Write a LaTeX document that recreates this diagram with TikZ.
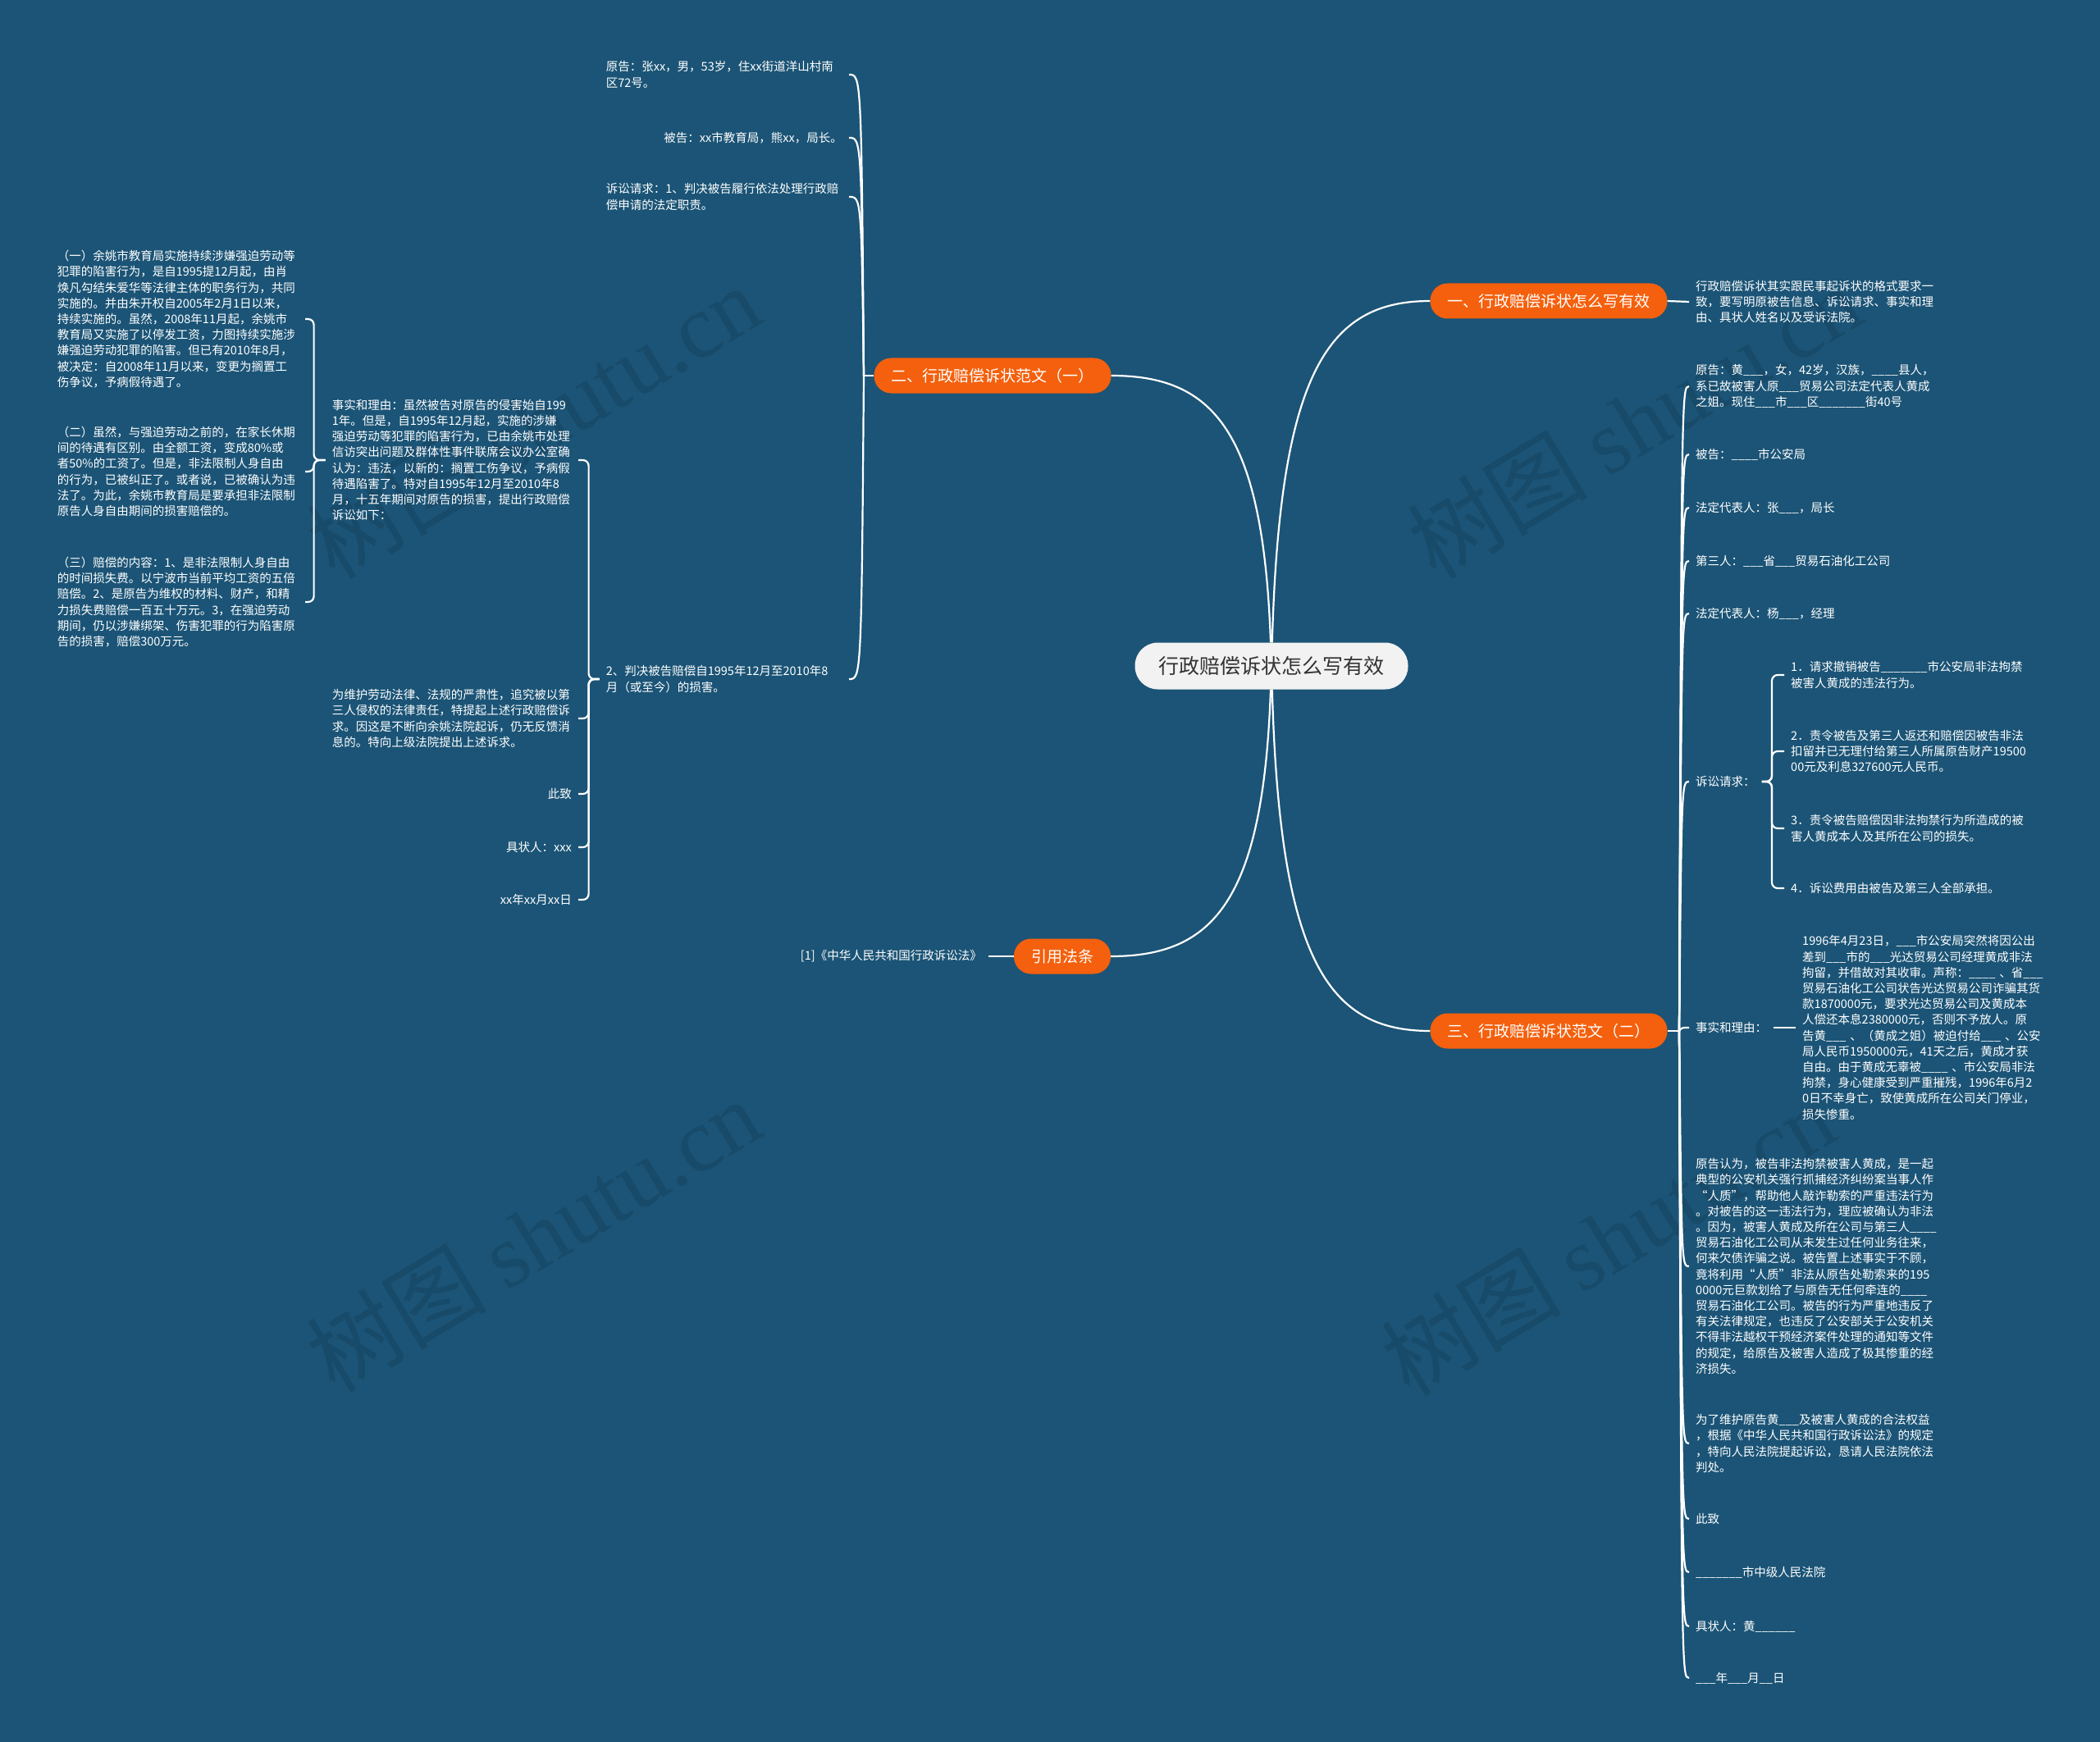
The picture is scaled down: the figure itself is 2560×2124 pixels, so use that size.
\documentclass[tikz,border=0pt]{standalone}
\usepackage{fontspec}
\setmainfont{Noto Sans CJK SC}
\newfontfamily\wmserif{Liberation Serif}
\usetikzlibrary{calc}
\definecolor{bgblue}{RGB}{27,84,118}
\definecolor{orng}{RGB}{244,96,13}
\definecolor{ctrfill}{RGB}{242,242,242}
\definecolor{ctrtext}{RGB}{51,51,51}
\begin{document}
\begin{tikzpicture}[x=1pt,y=-1pt,
  conn/.style={draw=white, line width=2.2pt},
  brace/.style={conn, rounded corners=7pt},
  branch/.style={fill=orng, text=white, rounded corners=21pt, minimum height=43pt, inner xsep=21pt, inner ysep=0pt, font=\fontsize{19}{22}\selectfont},
  ctrnode/.style={fill=ctrfill, text=ctrtext, rounded corners=28pt, minimum height=57pt, inner xsep=29pt, inner ysep=0pt, font=\fontsize{25}{28}\selectfont},
  txt/.style={text=white, inner xsep=8pt, inner ysep=2pt, font=\fontsize{14.5}{19.2}\selectfont},
  lbox/.style={txt, text width=#1, align=left},
  rbox/.style={txt, text width=#1, align=right},
  wm/.style={text=black, text opacity=0.11, rotate=31, font=\fontsize{110}{110}\selectfont}
]
\fill[bgblue] (0,0) rectangle (2560,2124);
\useasboundingbox (0,0) rectangle (2560,2124);

% watermarks
\node[wm] (w1) at (650,514) {树图 {\wmserif shutu.cn}};
\node[wm] (w2) at (1992,514) {树图 {\wmserif shutu.cn}};
\node[wm] (w3) at (650,1506) {树图 {\wmserif shutu.cn}};
\node[wm] (w4) at (1960,1510) {树图 {\wmserif shutu.cn}};

% center and branches
\node[ctrnode] (c) at (1550,812) {行政赔偿诉状怎么写有效};
\node[branch] (b1) at (1888,367) {一、行政赔偿诉状怎么写有效};
\node[branch] (b2) at (1210,458) {二、行政赔偿诉状范文（一）};
\node[branch] (b3) at (1888,1257) {三、行政赔偿诉状范文（二）};
\node[branch] (b4) at (1295,1166) {引用法条};

\draw[conn] (c) .. controls (1560,451) and (1620,367) .. (b1.west);
\draw[conn] (c) .. controls (1560,1173) and (1620,1257) .. (b3.west);
\draw[conn] (c) .. controls (1540,525) and (1479,458) .. (b2.east);
\draw[conn] (c) .. controls (1540,1099) and (1479,1166) .. (b4.east);

% branch 1
\node[lbox=300pt, anchor=west] (r1) at (2059,368) {行政赔偿诉状其实跟民事起诉状的格式要求一\\致，要写明原被告信息、诉讼请求、事实和理\\由、具状人姓名以及受诉法院。};
\draw[conn] (b1.east) -- (r1.west);

% branch 4
\node[txt, anchor=east] (ref) at (1205,1166) {[1]《中华人民共和国行政诉讼法》};
\draw[conn] (b4.west) -- (ref.east);

% branch 2 children
\node[lbox=288pt, anchor=east] (n2a) at (1035,91) {原告：张xx，男，53岁，住xx街道洋山村南\\区72号。};
\node[rbox=288pt, anchor=east] (n2b) at (1035,168) {被告：xx市教育局，熊xx，局长。};
\node[lbox=288pt, anchor=east] (n2c) at (1035,240) {诉讼请求：1、判决被告履行依法处理行政赔\\偿申请的法定职责。};
\node[lbox=288pt, anchor=east] (n2d) at (1035,828) {2、判决被告赔偿自1995年12月至2010年8\\月（或至今）的损害。};
\coordinate (p2) at (1053,458);
\draw[conn] (b2.west) -- (p2);
\foreach \k in {n2a,n2b,n2c,n2d}{
  \draw[conn] (p2) .. controls ($(\k.east)+(15,0)$) .. (\k.east);
}

% level 3 under n2d
\node[lbox=292pt, anchor=east] (l2a) at (705,561) {事实和理由：虽然被告对原告的侵害始自199\\1年。但是，自1995年12月起，实施的涉嫌\\强迫劳动等犯罪的陷害行为，已由余姚市处理\\信访突出问题及群体性事件联席会议办公室确\\认为：违法，以新的：搁置工伤争议，予病假\\待遇陷害了。特对自1995年12月至2010年8\\月，十五年期间对原告的损害，提出行政赔偿\\诉讼如下：};
\node[lbox=292pt, anchor=east] (l2b) at (705,876) {为维护劳动法律、法规的严肃性，追究被以第\\三人侵权的法律责任，特提起上述行政赔偿诉\\求。因这是不断向余姚法院起诉，仍无反馈消\\息的。特向上级法院提出上述诉求。};
\node[rbox=292pt, anchor=east] (l2c) at (705,968) {此致};
\node[rbox=292pt, anchor=east] (l2d) at (705,1033) {具状人：xxx};
\node[rbox=292pt, anchor=east] (l2e) at (705,1097) {xx年xx月xx日};
\coordinate (s2d) at ($(n2d.west)+(-13,0)$);
\foreach \k in {l2a,l2b,l2c,l2d,l2e}{
  \draw[brace] (n2d.west) -- (s2d) |- (\k.east);
}

% level 4 under l2a
\node[lbox=294pt, anchor=east] (l3a) at (372,389) {（一）余姚市教育局实施持续涉嫌强迫劳动等\\犯罪的陷害行为，是自1995提12月起，由肖\\焕凡勾结朱爱华等法律主体的职务行为，共同\\实施的。并由朱开权自2005年2月1日以来，\\持续实施的。虽然，2008年11月起，余姚市\\教育局又实施了以停发工资，力图持续实施涉\\嫌强迫劳动犯罪的陷害。但已有2010年8月，\\被决定：自2008年11月以来，变更为搁置工\\伤争议，予病假待遇了。};
\node[lbox=294pt, anchor=east] (l3b) at (372,575) {（二）虽然，与强迫劳动之前的，在家长休期\\间的待遇有区别。由全额工资，变成80\%或\\者50\%的工资了。但是，非法限制人身自由\\的行为，已被纠正了。或者说，已被确认为违\\法了。为此，余姚市教育局是要承担非法限制\\原告人身自由期间的损害赔偿的。};
\node[lbox=294pt, anchor=east] (l3c) at (372,734) {（三）赔偿的内容：1、是非法限制人身自由\\的时间损失费。以宁波市当前平均工资的五倍\\赔偿。2、是原告为维权的材料、财产，和精\\力损失费赔偿一百五十万元。3，在强迫劳动\\期间，仍以涉嫌绑架、伤害犯罪的行为陷害原\\告的损害，赔偿300万元。};
\coordinate (s2a) at ($(l2a.west)+(-14,0)$);
\foreach \k in {l3a,l3b,l3c}{
  \draw[brace] (l2a.west) -- (s2a) |- (\k.east);
}

% branch 3 children
\node[lbox=300pt, anchor=west] (r3a) at (2059,471) {原告：黄\_\_\_，女，42岁，汉族，\_\_\_\_县人，\\系已故被害人原\_\_\_贸易公司法定代表人黄成\\之姐。现住\_\_\_市\_\_\_区\_\_\_\_\_\_\_街40号};
\node[txt, anchor=west] (r3b) at (2059,554) {被告：\_\_\_\_市公安局};
\node[txt, anchor=west] (r3c) at (2059,619) {法定代表人：张\_\_\_，局长};
\node[txt, anchor=west] (r3d) at (2059,684) {第三人：\_\_\_省\_\_\_贸易石油化工公司};
\node[txt, anchor=west] (r3e) at (2059,748) {法定代表人：杨\_\_\_，经理};
\node[txt, anchor=west] (r3f) at (2059,953) {诉讼请求：};
\node[txt, anchor=west] (r3g) at (2059,1253) {事实和理由：};
\node[lbox=300pt, anchor=west] (r3h) at (2059,1544) {原告认为，被告非法拘禁被害人黄成，是一起\\典型的公安机关强行抓捕经济纠纷案当事人作\\“人质”，帮助他人敲诈勒索的严重违法行为\\。对被告的这一违法行为，理应被确认为非法\\。因为，被害人黄成及所在公司与第三人\_\_\_\_\\贸易石油化工公司从未发生过任何业务往来，\\何来欠债诈骗之说。被告置上述事实于不顾，\\竟将利用“人质”非法从原告处勒索来的195\\0000元巨款划给了与原告无任何牵连的\_\_\_\_\\贸易石油化工公司。被告的行为严重地违反了\\有关法律规定，也违反了公安部关于公安机关\\不得非法越权干预经济案件处理的通知等文件\\的规定，给原告及被害人造成了极其惨重的经\\济损失。};
\node[lbox=300pt, anchor=west] (r3i) at (2059,1760) {为了维护原告黄\_\_\_及被害人黄成的合法权益\\，根据《中华人民共和国行政诉讼法》的规定\\，特向人民法院提起诉讼，恳请人民法院依法\\判处。};
\node[txt, anchor=west] (r3j) at (2059,1852) {此致};
\node[txt, anchor=west] (r3k) at (2059,1917) {\_\_\_\_\_\_\_市中级人民法院};
\node[txt, anchor=west] (r3l) at (2059,1983) {具状人：黄\_\_\_\_\_\_};
\node[txt, anchor=west] (r3m) at (2059,2046) {\_\_\_年\_\_\_月\_\_日};
\coordinate (p3) at (2047,1257);
\draw[conn] (b3.east) -- (p3);
\foreach \k in {r3a,r3b,r3c,r3d,r3e,r3f,r3g,r3h,r3i,r3j,r3k,r3l,r3m}{
  \draw[conn] (p3) .. controls ($(\k.west)+(-9,0)$) .. (\k.west);
}

% claims under r3f
\node[lbox=300pt, anchor=west] (q1) at (2175,823) {1．请求撤销被告\_\_\_\_\_\_\_市公安局非法拘禁\\被害人黄成的违法行为。};
\node[lbox=300pt, anchor=west] (q2) at (2175,916) {2．责令被告及第三人返还和赔偿因被告非法\\扣留并已无理付给第三人所属原告财产19500\\00元及利息327600元人民币。};
\node[lbox=300pt, anchor=west] (q3) at (2175,1010) {3．责令被告赔偿因非法拘禁行为所造成的被\\害人黄成本人及其所在公司的损失。};
\node[lbox=300pt, anchor=west] (q4) at (2175,1083) {4．诉讼费用由被告及第三人全部承担。};
\coordinate (s3f) at (2160,953);
\foreach \k in {q1,q2,q3,q4}{
  \draw[brace] (r3f.east) -- (s3f) |- (\k.west);
}

% facts under r3g
\node[lbox=335pt, anchor=west] (f1) at (2189,1253) {1996年4月23日，\_\_\_市公安局突然将因公出\\差到\_\_\_市的\_\_\_光达贸易公司经理黄成非法\\拘留，并借故对其收审。声称：\_\_\_\_~、省\_\_\_\\贸易石油化工公司状告光达贸易公司诈骗其货\\款1870000元，要求光达贸易公司及黄成本\\人偿还本息2380000元，否则不予放人。原\\告黄\_\_\_~、（黄成之姐）被迫付给\_\_\_~、公安\\局人民币1950000元，41天之后，黄成才获\\自由。由于黄成无辜被\_\_\_\_~、市公安局非法\\拘禁，身心健康受到严重摧残，1996年6月2\\0日不幸身亡，致使黄成所在公司关门停业，\\损失惨重。};
\draw[conn] (r3g.east) -- (f1.west);

\end{tikzpicture}
\end{document}
